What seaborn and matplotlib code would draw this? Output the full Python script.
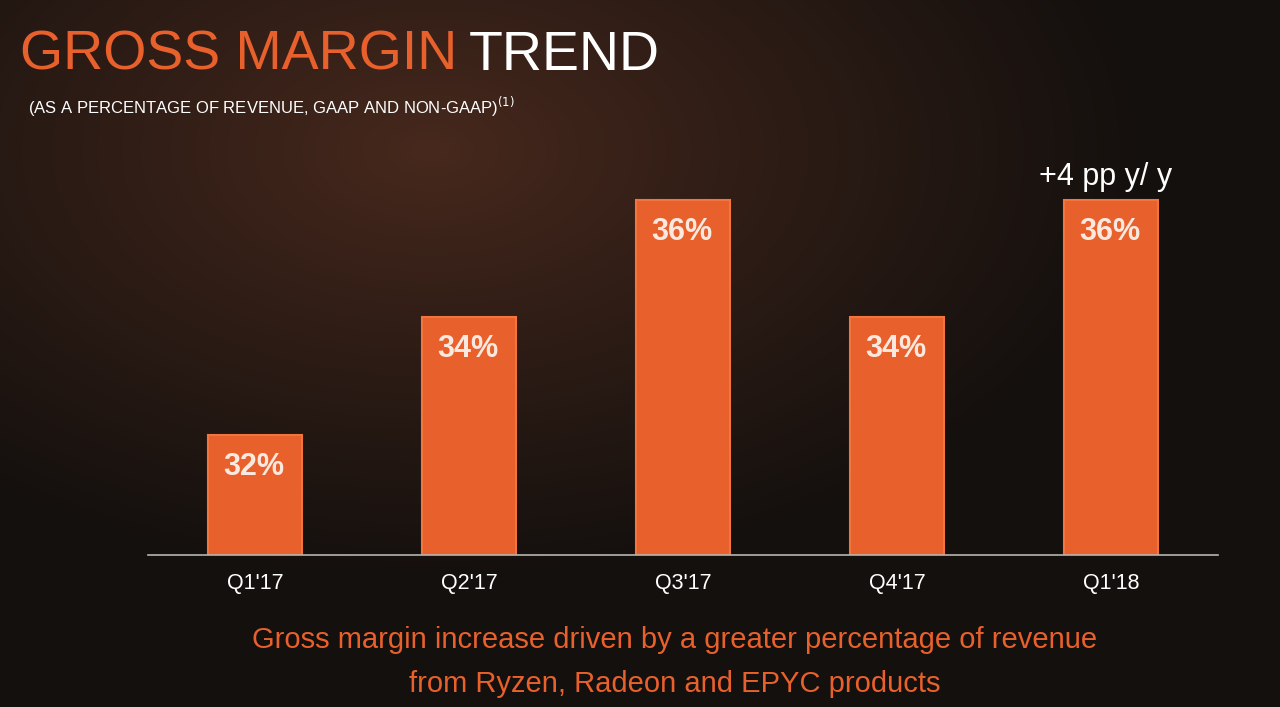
import numpy as np
import pandas as pd
import matplotlib
matplotlib.use("Agg")
import matplotlib.pyplot as plt
import seaborn as sns

# data
quarters = ["Q1'17", "Q2'17", "Q3'17", "Q4'17", "Q1'18"]
margin_pct = [32, 34, 36, 34, 36]
bar_labels = ["32%", "34%", "36%", "34%", "36%"]
yoy_note = "+4 pp y/ y"

ORANGE = "#E8602C"
BAR_EDGE = "#F2743F"

sns.set_theme(style="dark")
plt.rcParams['font.family'] = ['Liberation Sans', 'DejaVu Sans']

fig = plt.figure(figsize=(12.8, 7.07), dpi=100)

# dark brown background with a warm glow near the top left
bg = fig.add_axes([0, 0, 1, 1], zorder=0)
h, w = 707, 1280
yy, xx = np.mgrid[0:h, 0:w]
d = np.sqrt(((xx - 430) / 720.0) ** 2 + ((yy - 150) / 430.0) ** 2)
t = np.clip(d, 0, 1) ** 0.9
c_in = np.array([0x48, 0x29, 0x1d]) / 255.0
c_out = np.array([0x14, 0x10, 0x0e]) / 255.0
img = c_in[None, None, :] * (1 - t[..., None]) + c_out[None, None, :] * t[..., None]
bg.imshow(img, aspect='auto', extent=[0, 1, 0, 1])
bg.set_axis_off()

ax = fig.add_axes([148 / 1280, (707 - 555) / 707, 1070 / 1280, 405 / 707], zorder=1)
ax.patch.set_alpha(0)

df = pd.DataFrame({"quarter": quarters, "margin": margin_pct})
sns.barplot(data=df, x="quarter", y="margin", color=ORANGE, width=0.44,
            saturation=1, edgecolor=BAR_EDGE, linewidth=1.5, ax=ax)

ax.set_xlim(-0.5, 4.5)
ax.set_ylim(29.95, 36.85)
ax.set_xlabel("")
ax.set_ylabel("")
ax.set_yticks([])
ax.grid(False)
for s in ["top", "right", "left"]:
    ax.spines[s].set_visible(False)
ax.spines["bottom"].set_color("#b8b4b0")
ax.spines["bottom"].set_linewidth(1.2)
ax.tick_params(axis='x', colors="white", labelsize=15.5, length=0, pad=13)

for i, (v, lab) in enumerate(zip(margin_pct, bar_labels)):
    ax.annotate(lab, (i, v), xytext=(-1, -32), textcoords="offset pixels",
                ha="center", va="center", color="#fbe9e0", fontsize=22,
                fontweight="bold")

ax.annotate(yoy_note, (4, margin_pct[-1]), xytext=(-5, 23), textcoords="offset pixels",
            ha="center", va="center", color="white", fontsize=22)

# title, two colours
t1 = fig.text(20 / 1280, 1 - 56 / 707, "GROSS MARGIN", color=ORANGE, fontsize=40,
              va="center", ha="left")
fig.canvas.draw()
bb = t1.get_window_extent()
fig.text((bb.x1 + 12) / 1280, 1 - 56 / 707, "TREND", color="white", fontsize=40,
         va="center", ha="left")

fig.text(28 / 1280, 1 - 107 / 707,
         "(AS A PERCENTAGE OF REVENUE, GAAP AND NON-GAAP)$^{(1)}$",
         color="white", fontsize=12, va="center", ha="left")

fig.text(675 / 1280, 1 - 640 / 707,
         "Gross margin increase driven by a greater percentage of revenue",
         color=ORANGE, fontsize=21, ha="center", va="center")
fig.text(675 / 1280, 1 - 684 / 707, "from Ryzen, Radeon and EPYC products",
         color=ORANGE, fontsize=21, ha="center", va="center")

fig.savefig("out.png", dpi=100)
